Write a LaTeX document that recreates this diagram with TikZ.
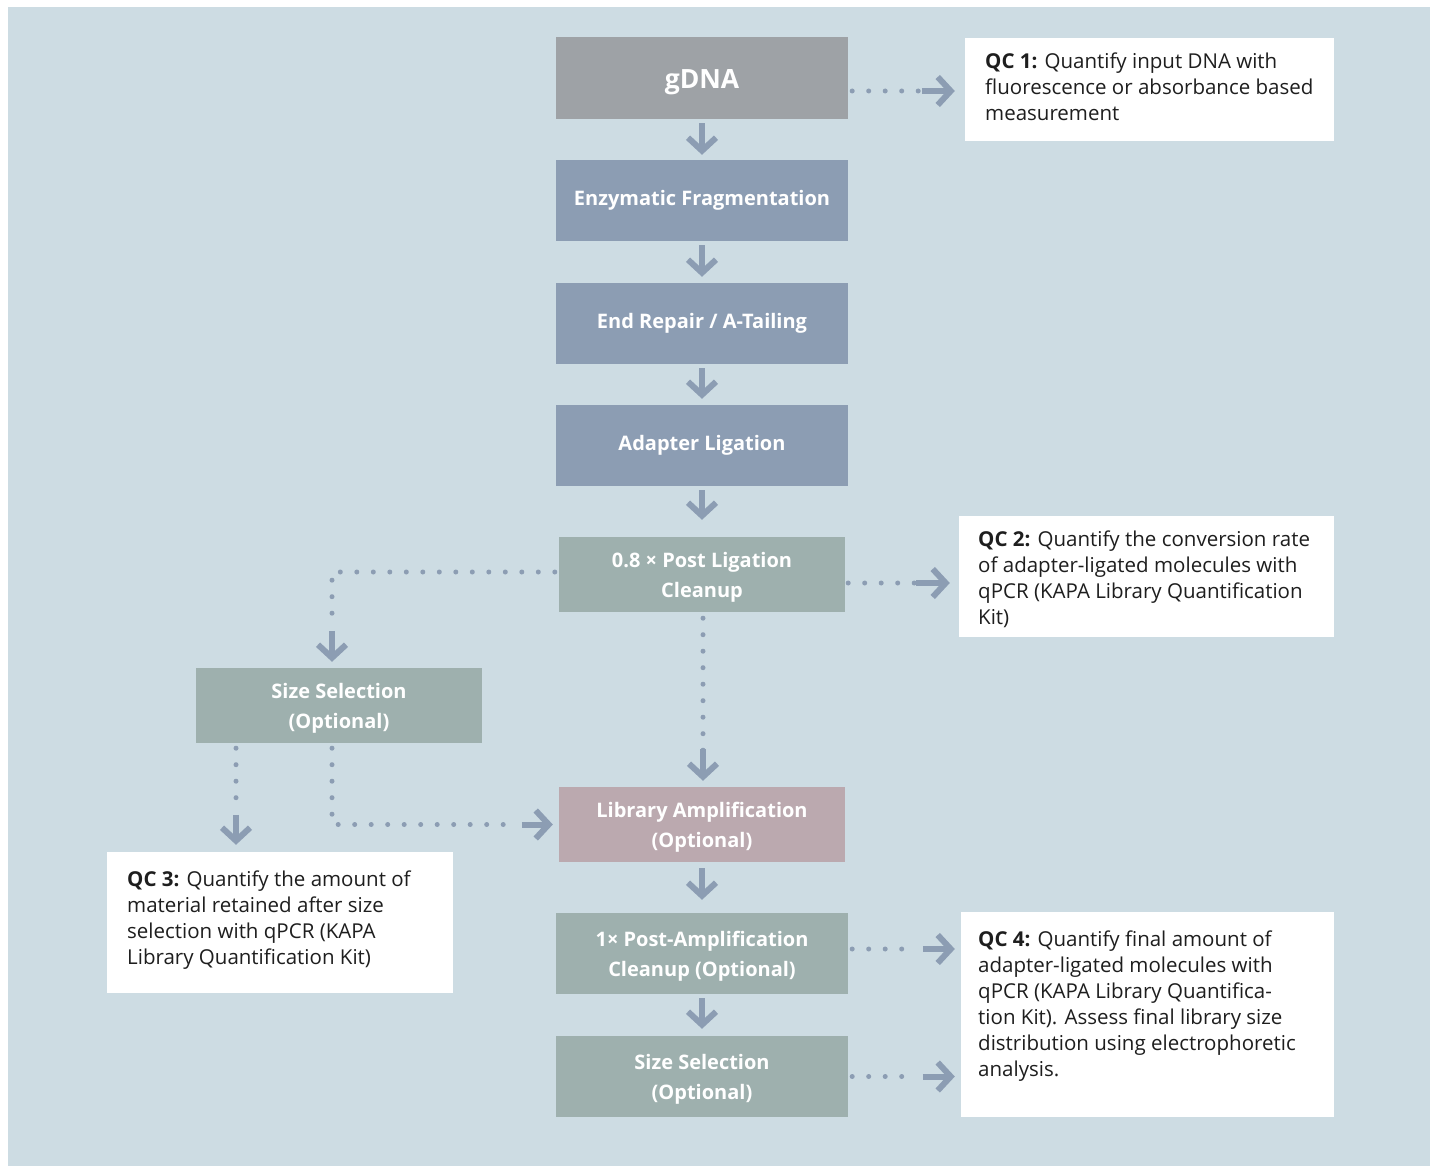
\documentclass[tikz,border=0pt]{standalone}
\usepackage{fontspec}
\setmainfont{Open Sans}
\usetikzlibrary{arrows.meta}
\definecolor{bgc}{HTML}{CDDCE3}
\definecolor{gdnac}{HTML}{9EA2A6}
\definecolor{bluec}{HTML}{8C9DB3}
\definecolor{greenc}{HTML}{9EB0AE}
\definecolor{pinkc}{HTML}{BBA9AF}
\definecolor{arrc}{HTML}{8C9DB3}
\definecolor{qctxt}{HTML}{1E1E1E}
\newcommand{\tstrut}{\rule{0pt}{20pt}}
\begin{document}
\begin{tikzpicture}[x=1pt,y=-1pt,
  box/.style={rectangle, inner sep=0pt, minimum width=292pt, minimum height=81pt, text=white,
    font=\fontsize{20}{30}\selectfont\bfseries, align=center},
  nbox/.style={box, minimum width=286pt, minimum height=75pt},
  qcbox/.style={rectangle, fill=white, inner sep=0pt},
  qctext/.style={anchor=north west, inner sep=0pt, align=left, text=qctxt,
    font=\fontsize{20.5}{26}\selectfont},
  solidarrow/.style={draw=arrc, line width=6pt, -{Straight Barb[length=13pt,width=28pt]}},
  dotline/.style={draw=arrc, line width=5pt, line cap=round, dash pattern=on 0pt off 16.5pt}
]
\useasboundingbox (0,0) rectangle (1437,1166);
\fill[white] (0,0) rectangle (1437,1166);
\fill[bgc] (8,7) rectangle (1430,1166);

% main boxes
\node[box, fill=gdnac, minimum height=82pt] (gdna) at (702,78) {};
\node[text=white, font=\fontsize{26.5}{30}\selectfont\bfseries, inner sep=0pt] (gdnat) at (702,82) {gDNA};
\node[box, fill=bluec] (enz) at (702,200.5) {Enzymatic Fragmentation};
\node[box, fill=bluec] (endr) at (702,323.5) {End Repair / A-Tailing};
\node[box, fill=bluec] (adap) at (702,445.5) {Adapter Ligation};
\node[nbox, fill=greenc] (clean) at (702,574.5) {\tstrut 0.8 × Post Ligation\\Cleanup};
\node[nbox, fill=greenc] (sizeL) at (339,705.5) {\tstrut Size Selection\\(Optional)};
\node[nbox, fill=pinkc] (lib) at (702,824.5) {\tstrut Library Amplification\\(Optional)};
\node[box, fill=greenc] (post) at (702,953.5) {\tstrut 1× Post-Amplification\\Cleanup (Optional)};
\node[box, fill=greenc] (sizeB) at (702,1076.5) {\tstrut Size Selection\\(Optional)};

% QC boxes
\node[qcbox, minimum width=369pt, minimum height=103pt] (qc1) at (1149.5,89.5) {};
\node[qcbox, minimum width=375pt, minimum height=121pt] (qc2) at (1146.5,576.5) {};
\node[qcbox, minimum width=346pt, minimum height=141pt] (qc3) at (280,922.5) {};
\node[qcbox, minimum width=373pt, minimum height=205pt] (qc4) at (1147.5,1014.5) {};

\node[qctext] (qc1t) at (985,53) {\textbf{QC 1:} Quantify input DNA with\\fluorescence or absorbance based\\measurement};
\node[qctext] (qc2t) at (978,531) {\textbf{QC 2:} Quantify the conversion rate\\of adapter-ligated molecules with\\qPCR (KAPA Library Quantification\\Kit)};
\node[qctext] (qc3t) at (127,871) {\textbf{QC 3:} Quantify the amount of\\material retained after size\\selection with qPCR (KAPA\\Library Quantification Kit)};
\node[qctext] (qc4t) at (978,931) {\textbf{QC 4:} Quantify final amount of\\adapter-ligated molecules with\\qPCR (KAPA Library Quantifica-\\tion Kit). Assess final library size\\distribution using electrophoretic\\analysis.};

% helper coordinates (bends and the start of each solid arrow stem)
\coordinate (q1d) at ([xshift=-45pt]qc1.west);
\coordinate (q1s) at ([xshift=-43pt]qc1.west);
\coordinate (q2d) at ([xshift=-44pt]qc2.west);
\coordinate (q2s) at ([xshift=-43pt]qc2.west);
\coordinate (q3d) at ([yshift=40pt]qc3.north);
\coordinate (q3s) at ([yshift=37pt]qc3.north);
\coordinate (q4d) at ([xshift=-45pt]qc4.west);
\coordinate (q4s) at ([xshift=-38pt]qc4.west);

% solid arrows
\draw[solidarrow, shorten <=4pt, shorten >=5pt] (gdna) -- (enz);
\draw[solidarrow, shorten <=4pt, shorten >=6pt] (enz) -- (endr);
\draw[solidarrow, shorten <=4pt, shorten >=6pt] (endr) -- (adap);
\draw[solidarrow, shorten <=4pt, shorten >=17pt] (adap) -- (clean);
\draw[solidarrow, shorten <=6pt, shorten >=13pt] (lib) -- (post);
\draw[solidarrow, shorten <=4pt, shorten >=7pt] (post) -- (sizeB);

% gDNA -> QC1
\draw[dotline, shorten <=4pt] ([yshift=-13pt]gdna.east) -- ([yshift=-13pt]gdna.east -| q1d);
\draw[solidarrow, shorten >=10pt] ([yshift=-13pt]gdna.east -| q1s) -- ([yshift=-13pt]gdna.east -| qc1.west);

% cleanup -> QC2
\draw[dotline, shorten <=3pt] ([yshift=-8.5pt]clean.east) -- ([yshift=-8.5pt]clean.east -| q2d);
\draw[solidarrow, shorten >=9pt] ([yshift=-8.5pt]clean.east -| q2s) -- ([yshift=-8.5pt]clean.east -| qc2.west);

% cleanup -> size selection (left)
\draw[dotline, shorten <=4pt] ([yshift=2.5pt]clean.west) -| ([xshift=-7pt,yshift=45pt]sizeL.north);
\draw[solidarrow, shorten >=6pt] ([xshift=-7pt,yshift=37pt]sizeL.north) -- ([xshift=-7pt]sizeL.north);

% cleanup -> library amplification
\draw[dotline, shorten <=6pt] ([xshift=1pt]clean.south) -- ([xshift=1pt,yshift=30pt]lib.north);
\draw[solidarrow, shorten >=6pt] ([xshift=1pt,yshift=38pt]lib.north) -- ([xshift=1pt]lib.north);

% size selection (left) -> QC3
\draw[dotline, shorten <=5pt] ([xshift=-103pt]sizeL.south) -- ([xshift=-103pt]sizeL.south |- q3d);
\draw[solidarrow, shorten >=7pt] ([xshift=-103pt]sizeL.south |- q3s) -- ([xshift=-103pt]sizeL.south |- qc3.north);

% size selection (left) -> library amplification
\draw[dotline, shorten <=5pt] ([xshift=-7pt]sizeL.south) |- ([xshift=-40pt]lib.west);
\draw[solidarrow, shorten >=6pt] ([xshift=-37pt]lib.west) -- (lib.west);

% post-amp -> QC4
\draw[dotline, shorten <=4pt] ([yshift=4.5pt]post.east) -- ([yshift=4.5pt]post.east -| q4d);
\draw[solidarrow, shorten >=6pt] ([yshift=4.5pt]post.east -| q4s) -- ([yshift=4.5pt]post.east -| qc4.west);

% size selection bottom -> QC4
\draw[dotline, shorten <=4pt] (sizeB.east) -- (sizeB.east -| q4d);
\draw[solidarrow, shorten >=6pt] (sizeB.east -| q4s) -- (sizeB.east -| qc4.west);
\end{tikzpicture}
\end{document}
